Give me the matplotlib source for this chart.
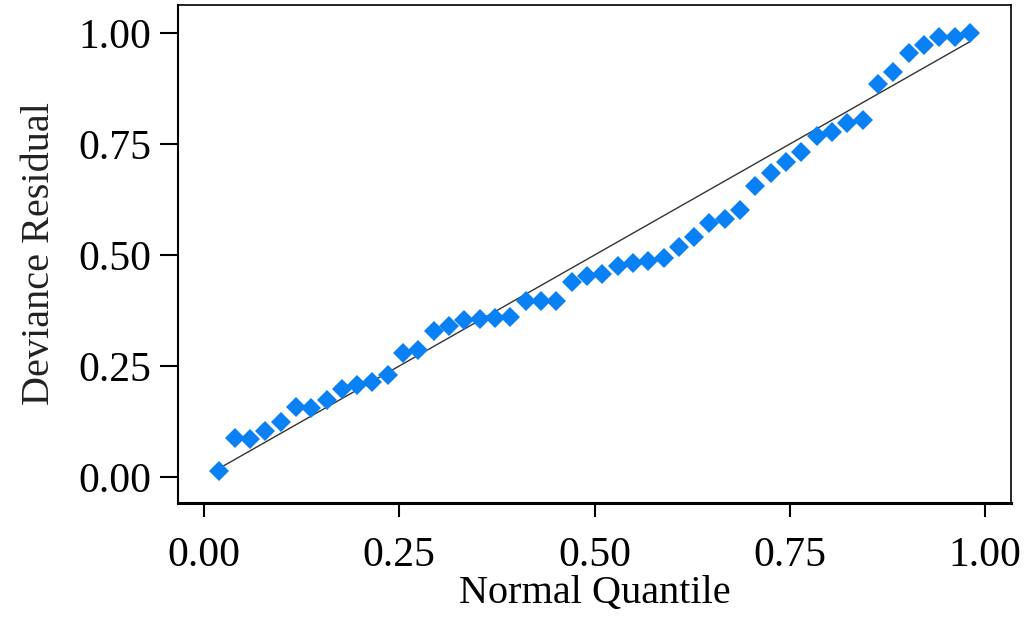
import numpy as np
import matplotlib
matplotlib.use("Agg")
import matplotlib.pyplot as plt

n_points = 50
quantiles = [i / (n_points + 1) for i in range(1, n_points + 1)]
residuals = [0.014, 0.087, 0.085, 0.104, 0.123, 0.158, 0.156, 0.173, 0.198, 0.207,
             0.213, 0.229, 0.280, 0.285, 0.329, 0.339, 0.354, 0.355, 0.359, 0.360,
             0.396, 0.396, 0.396, 0.439, 0.452, 0.458, 0.476, 0.481, 0.486, 0.494,
             0.518, 0.541, 0.571, 0.582, 0.602, 0.655, 0.685, 0.709, 0.732, 0.768,
             0.777, 0.797, 0.804, 0.885, 0.913, 0.956, 0.973, 0.992, 0.992, 0.999]
tick_values = [0.0, 0.25, 0.5, 0.75, 1.0]
tick_labels = ["0.00", "0.25", "0.50", "0.75", "1.00"]

plt.rcParams['font.family'] = ['Liberation Serif', 'DejaVu Serif']

fig = plt.figure(figsize=(10.27, 6.18), dpi=100)
ax = fig.add_axes([0.1733, 0.1865, 0.8111, 0.8054])

ax.plot([quantiles[0], quantiles[-1]], [quantiles[0], quantiles[-1]],
        color='#333333', lw=1.0, zorder=2)
ax.plot(quantiles, residuals, linestyle='none', marker='D', markersize=10.5,
        color='#0a80f5', markeredgewidth=0, zorder=3)

ax.set_xlim(-0.0333, 1.033)
ax.set_ylim(-0.058, 1.063)
ax.set_xticks(tick_values)
ax.set_xticklabels(tick_labels)
ax.set_yticks(tick_values)
ax.set_yticklabels(tick_labels)
ax.tick_params(axis='both', direction='out', width=1.5,
               labelsize=30, colors='black')
ax.tick_params(axis='x', length=10, pad=14)
ax.tick_params(axis='y', length=13, pad=6)
for side in ['left', 'bottom', 'top', 'right']:
    ax.spines[side].set_linewidth(1.5)
ax.spines['bottom'].set_linewidth(2.2)
ax.spines['top'].set_linewidth(1.2)
ax.spines['right'].set_linewidth(1.2)

ax.set_xlabel("Normal Quantile", fontsize=29, labelpad=0.5)
ax.set_ylabel("Deviance Residual", fontsize=29, labelpad=15, color='#222222')

fig.savefig("out.png", dpi=100)
